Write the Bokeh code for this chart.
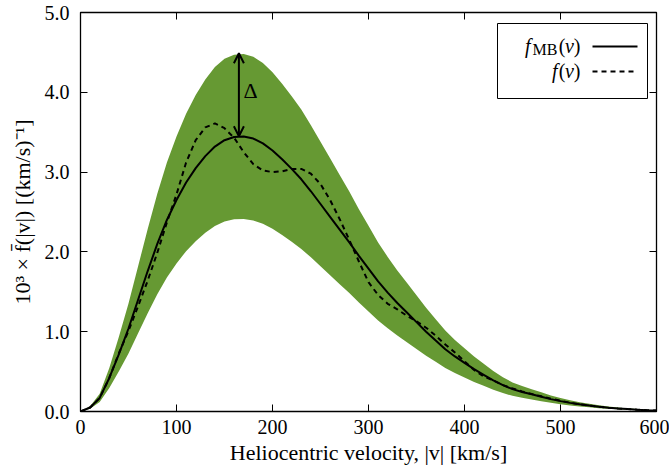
from bokeh.plotting import figure
from bokeh.models import (LinearAxis, FixedTicker, PrintfTickFormatter, Range1d, Arrow,
                          OpenHead, Label, BoxAnnotation, CustomJSTickFormatter)
from bokeh.embed import file_html
from bokeh.resources import INLINE

# ---------------- data ----------------
velocity = list(range(0, 601, 10))  # km/s

f_mb = [0.00, 0.05, 0.17, 0.42, 0.72, 1.04, 1.40, 1.76, 2.10, 2.40,
        2.65, 2.87, 3.05, 3.20, 3.32, 3.40, 3.44, 3.445, 3.42, 3.36,
        3.27, 3.16, 3.04, 2.91, 2.76, 2.60, 2.44, 2.28, 2.12, 1.95,
        1.79, 1.63, 1.49, 1.36, 1.24, 1.12, 1.00, 0.89, 0.78, 0.69,
        0.61, 0.53, 0.46, 0.39, 0.33, 0.28, 0.245, 0.215, 0.185, 0.155,
        0.13, 0.108, 0.09, 0.074, 0.06, 0.048, 0.038, 0.03, 0.023, 0.017,
        0.012]

f_true = [0.00, 0.05, 0.17, 0.42, 0.73, 1.01, 1.32, 1.64, 1.99, 2.37,
          2.72, 3.12, 3.40, 3.56, 3.61, 3.55, 3.43, 3.25, 3.10, 3.02,
          3.00, 3.01, 3.04, 3.04, 2.98, 2.85, 2.65, 2.41, 2.15, 1.88,
          1.62, 1.46, 1.35, 1.28, 1.20, 1.13, 1.05, 0.95, 0.84, 0.74,
          0.63, 0.52, 0.44, 0.39, 0.33, 0.29, 0.25, 0.22, 0.19, 0.16,
          0.135, 0.11, 0.09, 0.075, 0.06, 0.048, 0.038, 0.03, 0.023, 0.017,
          0.012]

band_upper = [0.000, 0.065, 0.221, 0.546, 0.936, 1.352, 1.820, 2.288, 2.730, 3.120,
              3.445, 3.731, 3.965, 4.160, 4.316, 4.420, 4.472, 4.479, 4.446, 4.368,
              4.251, 4.108, 3.952, 3.783, 3.588, 3.380, 3.172, 2.964, 2.756, 2.535,
              2.327, 2.119, 1.937, 1.768, 1.612, 1.456, 1.300, 1.157, 1.014, 0.897,
              0.793, 0.689, 0.598, 0.507, 0.429, 0.364, 0.319, 0.280, 0.241, 0.202,
              0.169, 0.140, 0.117, 0.096, 0.078, 0.062, 0.049, 0.039, 0.030, 0.022,
              0.016]

band_lower = [0.000, 0.035, 0.119, 0.294, 0.504, 0.728, 0.980, 1.232, 1.470, 1.680,
              1.855, 2.009, 2.135, 2.240, 2.324, 2.380, 2.408, 2.412, 2.394, 2.352,
              2.289, 2.212, 2.128, 2.037, 1.932, 1.820, 1.708, 1.596, 1.484, 1.365,
              1.253, 1.141, 1.043, 0.952, 0.868, 0.784, 0.700, 0.623, 0.546, 0.483,
              0.427, 0.371, 0.322, 0.273, 0.231, 0.196, 0.172, 0.151, 0.130, 0.109,
              0.091, 0.076, 0.063, 0.052, 0.042, 0.034, 0.027, 0.021, 0.016, 0.012,
              0.008]

x_ticks = [0, 100, 200, 300, 400, 500, 600]
y_ticks = [0, 1, 2, 3, 4, 5]

peak_velocity = 165
peak_mb = 3.45
peak_upper = 4.49

# ---------------- styling ----------------
GREEN = "#669933"
FONT = "Liberation Serif"
FS = "20px"
FS_LABEL = "22px"

p = figure(width=669, height=468, x_range=Range1d(0, 600), y_range=Range1d(0, 5),
           output_backend="svg", toolbar_location=None,
           min_border_left=80, min_border_right=13, min_border_top=12, min_border_bottom=57)
p.grid.visible = False
p.outline_line_color = "black"
p.outline_line_width = 1.3
p.background_fill_color = "white"
p.border_fill_color = "white"

p.varea(x=velocity, y1=band_lower, y2=band_upper, fill_color=GREEN, fill_alpha=1.0)
p.line(velocity, f_mb, line_color="black", line_width=2)
p.line(velocity, f_true, line_color="black", line_width=2, line_dash="5 4")

# Delta arrow
p.add_layout(Arrow(start=OpenHead(size=10, line_width=2, line_color="black"),
                   end=OpenHead(size=10, line_width=2, line_color="black"),
                   x_start=peak_velocity, y_start=peak_mb,
                   x_end=peak_velocity, y_end=peak_upper,
                   line_width=2, line_color="black"))

# layout helpers (pixel -> data), frame: x 80..656, y 12..411
def px_x(px):
    return (px - 80) / 576 * 600

def px_y(py):
    return (411 - py) / 399 * 5

p.add_layout(Label(x=px_x(250), y=px_y(90), text="Δ", text_font=FONT, text_font_size="22px",
                   text_color="black", text_align="center", text_baseline="middle"))

# axes
def style_axis(ax, ticks):
    ax.ticker = FixedTicker(ticks=ticks)
    ax.major_tick_in = 7
    ax.major_tick_out = 0
    ax.minor_tick_line_color = None
    ax.axis_line_color = "black"
    ax.major_tick_line_color = "black"
    ax.major_label_text_font = FONT
    ax.major_label_text_font_size = FS
    ax.major_label_text_color = "black"
    ax.axis_label_text_font = FONT
    ax.axis_label_text_font_size = FS_LABEL
    ax.axis_label_text_font_style = "normal"
    ax.axis_label_text_color = "black"

xa = p.xaxis[0]
style_axis(xa, x_ticks)
xa.major_label_standoff = 8
xa.axis_label = "Heliocentric velocity, |v| [km/s]"
xa.axis_label_standoff = 3

ya = p.yaxis[0]
style_axis(ya, y_ticks)
ya.formatter = PrintfTickFormatter(format="%.1f")
ya.major_label_standoff = 11
ya.axis_label = "10³ × f̄(|v|) [(km/s)⁻¹]"
ya.axis_label_standoff = 7

top = LinearAxis()
style_axis(top, x_ticks)
top.formatter = CustomJSTickFormatter(code="return ''")
top.major_label_standoff = 0
p.add_layout(top, "above")

right = LinearAxis()
style_axis(right, y_ticks)
right.formatter = CustomJSTickFormatter(code="return ''")
right.major_label_standoff = 0
p.add_layout(right, "right")

# legend (label on left, sample on right)
p.add_layout(BoxAnnotation(left=px_x(497), right=px_x(647), top=px_y(23), bottom=px_y(98),
                           fill_color="white", fill_alpha=1.0, line_color="black", line_width=1,
                           line_alpha=1.0, level="underlay"))
row1, row2 = 46, 71
p.segment(x0=[px_x(592)], y0=[px_y(row1)], x1=[px_x(637)], y1=[px_y(row1)],
          line_color="black", line_width=2)
p.segment(x0=[px_x(592)], y0=[px_y(row2)], x1=[px_x(637)], y1=[px_y(row2)],
          line_color="black", line_width=2, line_dash="5 4")

def legend_text(xpx, ypx, txt, size=FS, style="normal"):
    p.add_layout(Label(x=px_x(xpx), y=px_y(ypx), text=txt, text_font=FONT, text_font_size=size,
                       text_font_style=style, text_color="black",
                       text_align="right", text_baseline="middle"))

for row in (row1, row2):
    legend_text(580, row - 1, ")")
    legend_text(573.5, row - 1, "v", style="italic")
    legend_text(565, row - 1, "(")
legend_text(557, row1 + 3, "MB", size="16px")
legend_text(530, row1 - 1, "f", style="italic")
legend_text(557, row2 - 1, "f", style="italic")

open("out.html", "w").write(file_html(p, INLINE))
